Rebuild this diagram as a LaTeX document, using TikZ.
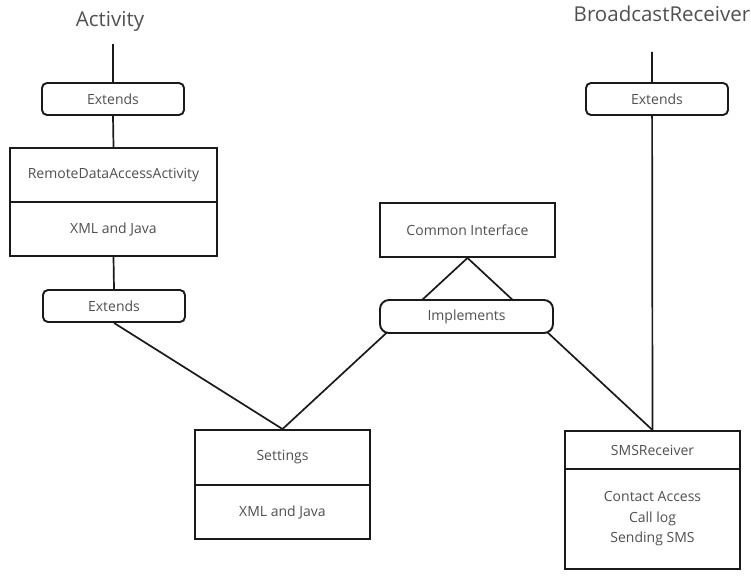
\documentclass[tikz,border=0pt]{standalone}
\usepackage{fontspec}
\setmainfont{Open Sans}
\usetikzlibrary{backgrounds}
\definecolor{txtgray}{HTML}{505050}
\definecolor{linegray}{HTML}{1A1A1A}
\tikzset{
  cls/.style={draw=linegray,line width=1.9pt,fill=white,text=txtgray,
    font=\fontsize{14}{20.5}\selectfont,minimum width=#1,inner sep=0pt,align=center},
  relbox/.style={cls=142pt,rounded corners=5pt,minimum height=32pt},
  header/.style={text=txtgray,font=\fontsize{20.5}{24}\selectfont,inner sep=1pt},
  link/.style={draw=linegray,line width=1.7pt}
}
\begin{document}
\begin{tikzpicture}[x=1pt,y=-1pt]
\useasboundingbox (0,0) rectangle (751,575);

% left branch
\node[header] (act) at (110,21) {Activity};
\node[relbox] (ext1) at (113,99) {Extends};
\node[cls=207pt,minimum height=54pt] (rdaname) at (113.5,175) {RemoteDataAccessActivity};
\node[cls=207pt,minimum height=54pt] (rdabody) at (113.5,229) {XML and Java};
\node[relbox] (ext2) at (114,306) {Extends};

% middle
\node[cls=175pt,minimum height=54pt] (ci) at (467.5,230) {Common Interface};
\node[relbox,minimum width=173pt,rounded corners=9pt,minimum height=33pt] (impl) at (466.5,316.5) {Implements};
\node[cls=175pt,minimum height=55pt] (setname) at (282.5,457.5) {Settings};
\node[cls=175pt,minimum height=54pt] (setbody) at (282.5,512) {XML and Java};

% right branch
\node[header] (brc) at (662,14) {BroadcastReceiver};
\coordinate (brtop) at (652,52);
\node[relbox] (ext3) at (657,99) {Extends};
\node[cls=175pt,minimum height=38pt] (smsname) at (652.5,450) {SMSReceiver};
\node[cls=175pt,minimum height=100pt] (smsbody) at (652.5,519) {Contact Access\\Call log\\Sending SMS};

\begin{pgfonlayer}{background}
\path[link] (113,44) -- (ext1.north);
\path[link] (ext1.south) -- (rdaname.north);
\path[link] (rdabody.south) -- (ext2.north);
\path[link] (ext2.south) -- (setname.north);
\path[link] (ci.south) -- (setname.north);
\path[link] (ci.south) -- (smsname.north);
\path[link] (brtop) -- (smsname.north);
\end{pgfonlayer}

\end{tikzpicture}
\end{document}
